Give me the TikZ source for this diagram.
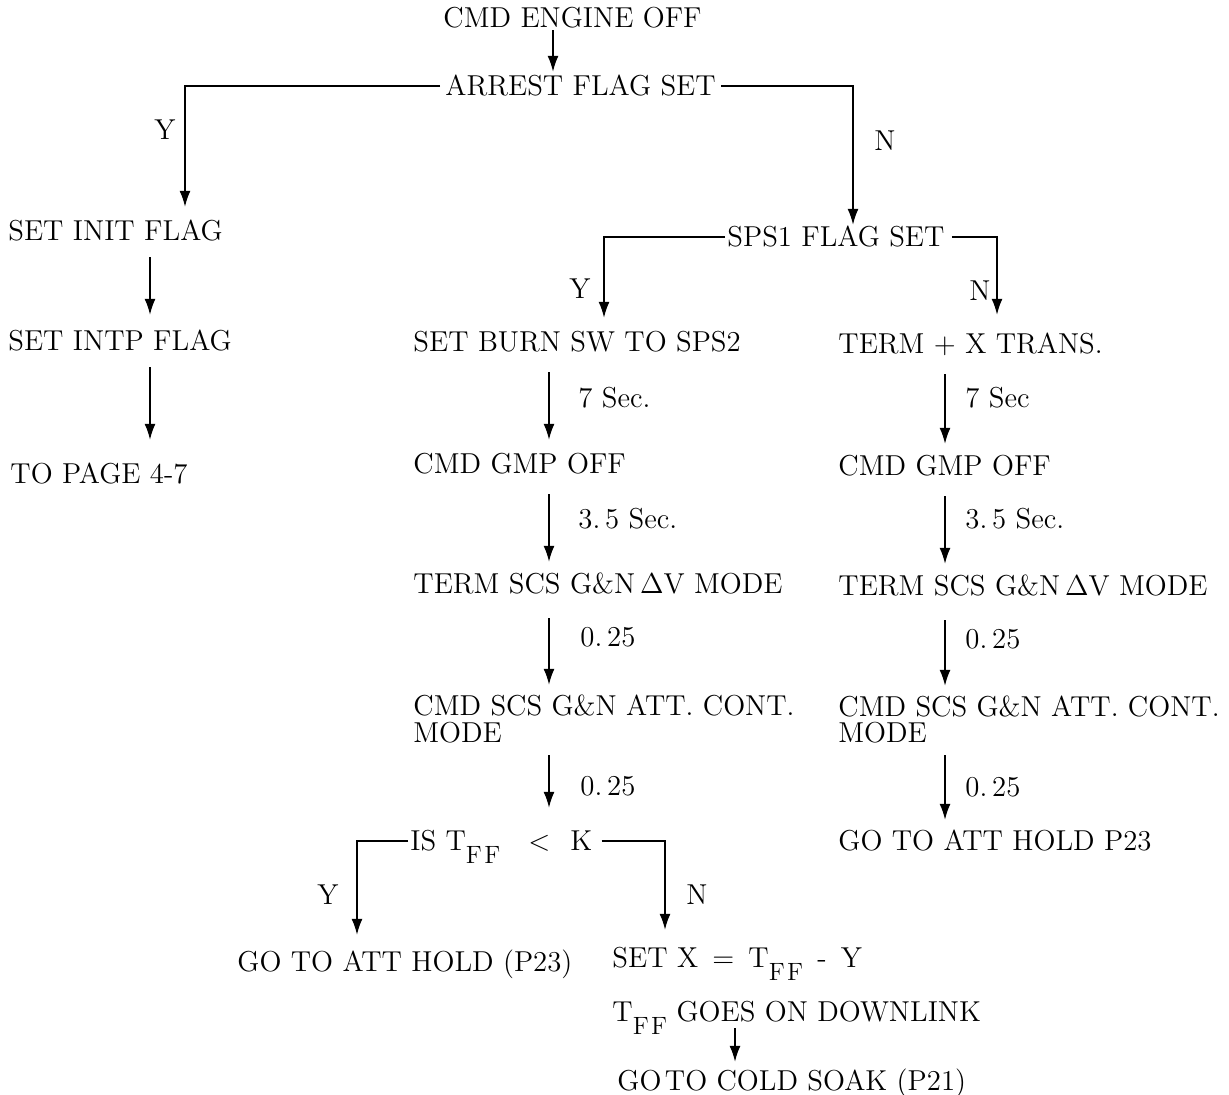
\documentclass[tikz,border=0pt]{standalone}
\usetikzlibrary{arrows.meta,calc}
\newcommand\dfont{\fontsize{14.4}{13.5}\selectfont}
\newcommand\sbFF{\raisebox{-6.5pt}{\fontsize{12.5}{12}\selectfont F\kern1.2pt F}}
\begin{document}
\begin{tikzpicture}[x=0.5pt,y=-0.5pt,
  t/.style={anchor=west, inner sep=0pt, font=\dfont, text height=9.8pt, text depth=0pt},
  yn/.style={inner sep=0pt, font=\dfont},
  arr/.style={-{Latex[length=8pt,width=5.5pt]}, line width=0.8pt},
]
\useasboundingbox (0,0) rectangle (1229,1094);

% column coordinates
\coordinate (c1) at (553,0);
\coordinate (c185) at (185,0);
\coordinate (c150) at (150,0);
\coordinate (c853) at (853,0);
\coordinate (c604) at (604,0);
\coordinate (c997) at (997,0);
\coordinate (cA) at (549,0);
\coordinate (cB) at (945,0);
\coordinate (c357) at (357,0);
\coordinate (c665) at (665,0);
\coordinate (c735) at (735,0);

% nodes
\node[t] (cmd) at (443,18) {CMD ENGINE OFF};
\node[t] (arrest) at (445,86) {ARREST FLAG SET};
\node[t] (init) at (8,231) {SET INIT FLAG};
\node[t] (intp) at (8,341) {SET INTP FLAG};
\node[t] (page) at (10,474) {TO PAGE 4-7};
\node[t] (sps1) at (727,237) {SPS1 FLAG SET};
\node[t] (burn) at (413,342) {SET BURN SW TO SPS2};
\node[t] (gmpA) at (413,464) {CMD GMP OFF};
\node[t] (termA) at (413,584) {TERM SCS G\&N\,$\Delta$V MODE};
\node[t] (attA) at (413,706) {CMD SCS G\&N ATT. CONT.};
\node[t] (attAm) at (413,733) {MODE};
\node[t] (isT) at (410,841) {IS T\sbFF\hspace{14pt}$<$\hspace{10pt}K};
\node[t] (hold) at (237,962) {GO TO ATT HOLD (P23)};
\node[t] (setx) at (612,958) {SET X \,=\, T\sbFF\ \,-\, Y};
\node[t] (tffd) at (612,1012) {T\sbFF\ GOES ON DOWNLINK};
\node[t] (cold) at (617,1081) {GO\hspace{0.12em}TO COLD SOAK (P21)};
\node[t] (transB) at (838,344) {TERM + X TRANS.};
\node[t] (gmpB) at (838,466) {CMD GMP OFF};
\node[t] (termB) at (838,586) {TERM SCS G\&N\,$\Delta$V MODE};
\node[t] (attB) at (838,707) {CMD SCS G\&N ATT. CONT.};
\node[t] (attBm) at (838,733) {MODE};
\node[t] (holdB) at (838,841) {GO TO ATT HOLD P23};

% branch labels
\node[yn] (y1) at (165,130) {Y};
\node[yn] (n1) at (885,141) {N};
\node[yn] (y2) at (580,289) {Y};
\node[yn] (n2) at (980,291) {N};
\node[yn] (y3) at (328,895) {Y};
\node[yn] (n3) at (697,895) {N};

% timing labels
\node[t] (tA1) at (578,398) {7 Sec.};
\node[t] (tA2) at (578,519) {3.\,5 Sec.};
\node[t] (tA3) at (580,637) {0.\,25};
\node[t] (tA4) at (580,786) {0.\,25};
\node[t] (tB1) at (965,398) {7 Sec};
\node[t] (tB2) at (965,519) {3.\,5 Sec.};
\node[t] (tB3) at (965,639) {0.\,25};
\node[t] (tB4) at (965,787) {0.\,25};

% connectors
\draw[arr, shorten <=1pt, shorten >=2pt] (cmd.south -| c1) -- (arrest.north -| c1);
\draw[arr, shorten <=2.5pt, shorten >=7pt] (arrest.west) -| (init.north -| c185);
\draw[arr, shorten <=2.5pt, shorten >=1pt] (arrest.east) -| (sps1.north -| c853);
\draw[arr, shorten <=8pt, shorten >=8pt] (init.south -| c150) -- (intp.north -| c150);
\draw[arr, shorten <=8pt, shorten >=12pt] (intp.south -| c150) -- (page.north -| c150);

\draw[arr, shorten <=1pt, shorten >=7pt] (sps1.west) -| (burn.north -| c604);
\draw[arr, shorten <=3.5pt, shorten >=9.5pt] (sps1.east) -| (transB.north -| c997);

\draw[arr, shorten <=10pt, shorten >=7pt] (burn.south -| cA) -- (gmpA.north -| cA);
\draw[arr, shorten <=10pt, shorten >=6pt] (gmpA.south -| cA) -- (termA.north -| cA);
\draw[arr, shorten <=12pt, shorten >=5.5pt] (termA.south -| cA) -- (attA.north -| cA);
\draw[arr, shorten <=6pt, shorten >=11.5pt] (attAm.south -| cA) -- (isT.north -| cA);

\draw[arr, shorten <=10pt, shorten >=6pt] (transB.south -| cB) -- (gmpB.north -| cB);
\draw[arr, shorten <=10pt, shorten >=6pt] (gmpB.south -| cB) -- (termB.north -| cB);
\draw[arr, shorten <=12pt, shorten >=5.5pt] (termB.south -| cB) -- (attB.north -| cB);
\draw[arr, shorten <=6pt, shorten >=5.5pt] (attBm.south -| cB) -- (holdB.north -| cB);

\draw[arr, shorten <=1pt, shorten >=8.5pt] (isT.west) -| (hold.north -| c357);
\draw[arr, shorten <=4.5pt, shorten >=9pt] (isT.east) -| (setx.north -| c665);

\draw[arr, shorten <=3pt, shorten >=4.5pt] (tffd.south -| c735) -- (cold.north -| c735);
\end{tikzpicture}
\end{document}
